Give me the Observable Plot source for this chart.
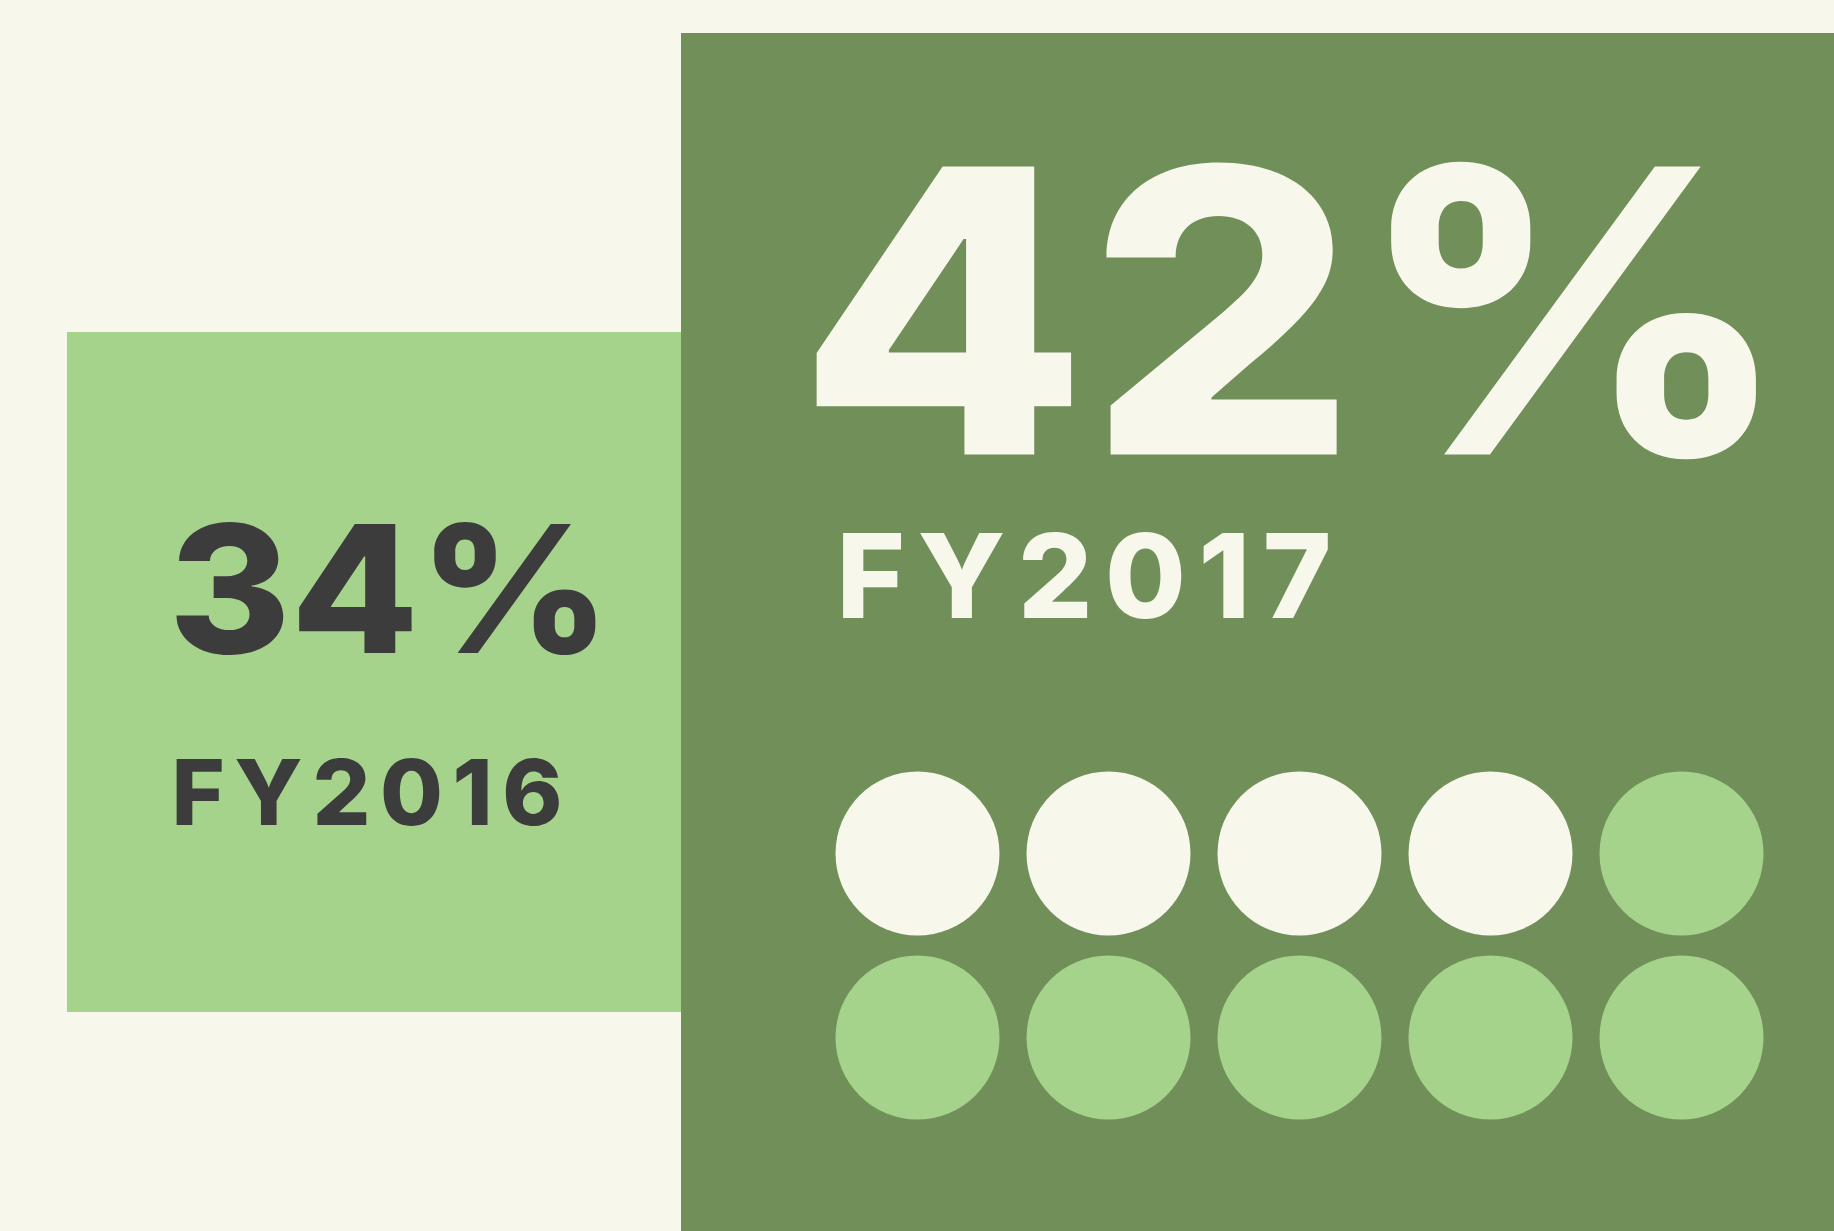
<!DOCTYPE html>
<html>
<head>
<meta charset="utf-8">
<script src="https://cdn.jsdelivr.net/npm/d3@7"></script>
<script src="https://cdn.jsdelivr.net/npm/@observablehq/plot@0.6"></script>
<style>
  html, body { margin: 0; padding: 0; background: #f8f7ec; }
  #chart svg { display: block; }
</style>
</head>
<body>
<div id="chart"></div>
<script>
// ---- data ----
const years = ["FY2016", "FY2017"];
const shares = [34, 42];
// waffle for FY2017: 10 dots, filled ones highlighted
const waffleFilled = [1, 1, 1, 1, 0, 0, 0, 0, 0, 0];

// ---- layout / style ----
const W = 1834, H = 1231;
const cream = "#f8f7ec", light = "#a6d38c", dark = "#718f59", ink = "#3c3c3c";

const panels = [
  {year: years[0], x1: 67, x2: 682, y1: 332, y2: 1012, fill: light},
  {year: years[1], x1: 681, x2: W, y1: 33, y2: H, fill: dark}
];

const labels = [
  {text: shares[0] + "%", x: 168, y: 652, size: 177, len: 442, color: ink, adjust: "spacingAndGlyphs"},
  {text: years[0],        x: 171, y: 824, size: 91,  len: 391, color: ink, adjust: "spacing"},
  {text: shares[1] + "%", x: 797, y: 454, size: 396, len: 993, color: cream, adjust: "spacingAndGlyphs"},
  {text: years[1],        x: 836, y: 617, size: 117, len: 495, color: cream, adjust: "spacing"}
];

const wx0 = 917, wdx = 191, wy0 = 853, wdy = 184, wr = 82;
const dots = waffleFilled.map((f, i) => ({
  col: i % 5, row: Math.floor(i / 5), filled: f
}));

const plot = Plot.plot({
  width: W, height: H,
  margin: 0,
  style: {background: cream, fontFamily: "Inter, 'Open Sans', sans-serif"},
  x: {type: "linear", domain: [0, W], range: [0, W], axis: null},
  y: {type: "linear", domain: [0, H], range: [0, H], axis: null},
  marks: [
    Plot.rect(panels, {x1: "x1", x2: "x2", y1: "y1", y2: "y2", fill: "fill"}),
    Plot.dot(dots, {
      x: d => wx0 + d.col * wdx,
      y: d => wy0 + d.row * wdy,
      r: wr,
      fill: d => d.filled ? cream : light,
      stroke: null
    }),
    ...labels.map(l => Plot.text([l], {
      x: "x", y: "y", text: "text",
      fill: l.color, fontSize: l.size, fontWeight: 800,
      textAnchor: "start", lineAnchor: "bottom"
    }))
  ]
});

const map = new Map(labels.map(l => [l.text, l]));
d3.select(plot).selectAll("text").each(function() {
  const l = map.get(this.textContent);
  if (l) {
    this.setAttribute("textLength", l.len);
    this.setAttribute("lengthAdjust", l.adjust);
  }
});

document.getElementById("chart").appendChild(plot);
</script>
</body>
</html>
